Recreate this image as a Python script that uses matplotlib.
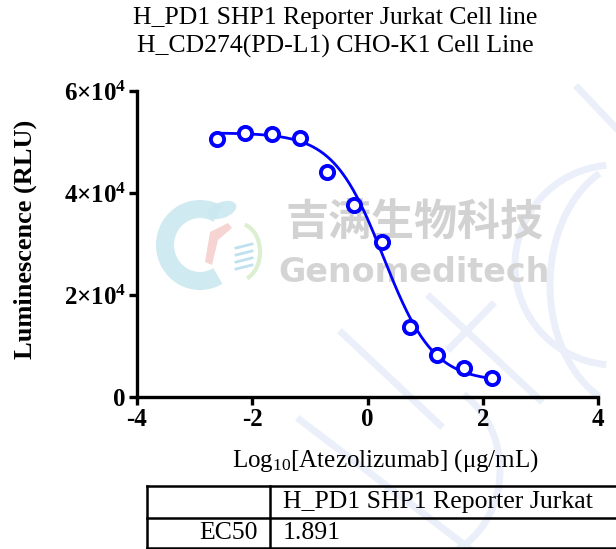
import numpy as np
import matplotlib
matplotlib.use("Agg")
import matplotlib.pyplot as plt
from matplotlib.patches import Arc, Ellipse, Polygon

# ===== DATA =====
log_conc = [-2.606, -2.125, -1.656, -1.17, -0.70, -0.227, 0.253, 0.734, 1.208, 1.683, 2.163]
rlu = [50560, 51850, 51600, 50750, 44110, 37720, 30430, 13810, 8210, 5730, 3770]

# 4PL fit parameters
fit_top = 51800
fit_bottom = 3000
fit_logec50 = 0.277
fit_hill = 1.0

x_ticks = [-4, -2, 0, 2, 4]
y_ticks = [0, 20000, 40000, 60000]
y_tick_labels = ["0", r"$\mathbf{2{\times}10^4}$", r"$\mathbf{4{\times}10^4}$", r"$\mathbf{6{\times}10^4}$"]

table_header = ["", "H_PD1 SHP1 Reporter Jurkat"]
table_row = ["EC50", "1.891"]

title_lines = ["H_PD1 SHP1 Reporter Jurkat Cell line", "H_CD274(PD-L1) CHO-K1 Cell Line"]

# ===== STYLE =====
plt.rcParams["font.family"] = ["Liberation Serif", "DejaVu Serif"]
plt.rcParams["mathtext.fontset"] = "custom"
plt.rcParams["mathtext.rm"] = "Liberation Serif"
plt.rcParams["mathtext.bf"] = "Liberation Serif:bold"
plt.rcParams["mathtext.it"] = "Liberation Serif:italic"

W, H = 616, 549
fig = plt.figure(figsize=(W / 100, H / 100), dpi=100)

# ===== WATERMARK (background) =====
bg = fig.add_axes([0, 0, 1, 1], zorder=0)
bg.set_xlim(0, W)
bg.set_ylim(H, 0)
bg.axis("off")
wm = "#eaeff9"
bg.add_patch(Arc((615, 265), 200, 200, theta1=95, theta2=265, color=wm, lw=5))
bg.add_patch(Arc((640, 285), 180, 250, theta1=110, theta2=250, color=wm, lw=5))
bg.plot([578, 616], [88, 128], color=wm, lw=5)
bg.plot([342, 440], [333, 425], color=wm, lw=5)
bg.plot([430, 540], [297, 400], color=wm, lw=5)
bg.plot([492, 450], [305, 348], color=wm, lw=5)
bg.plot([300, 470], [420, 549], color=wm, lw=5)
bg.add_patch(Arc((420, 470), 160, 180, theta1=-60, theta2=80, color=wm, lw=5))
# logo
bg.add_patch(Arc((200, 245), 70, 72, theta1=60, theta2=300, color="#cbe8f0", lw=13, alpha=0.9))
bg.add_patch(Ellipse((222, 210), 30, 16, angle=-20, color="#cbe8f0", alpha=0.9, lw=0))
bg.add_patch(Polygon([[205, 262], [210, 232], [228, 223], [232, 228], [218, 240], [212, 265]],
                     closed=True, color="#f6d0cc", lw=0, alpha=0.9))
bg.add_patch(Arc((240, 252), 40, 56, theta1=-80, theta2=75, color="#dcefd0", lw=3))
for k in range(4):
    bg.plot([236, 252], [248 + 7 * k, 244 + 7 * k], color="#bfe0ee", lw=2)
bg.text(414, 222, "吉满生物科技", family=["Noto Sans CJK SC", "DejaVu Sans"], fontsize=31,
        fontweight="bold", color="#d2d2d2", ha="center", va="center")
bg.text(414, 272, "Genomeditech", family=["DejaVu Sans"], fontsize=24,
        fontweight="bold", color="#d4d4d4", ha="center", va="center")

# ===== PLOT =====
ax = fig.add_axes([137 / W, 1 - 397 / H, 461 / W, 306 / H], zorder=1)
ax.patch.set_alpha(0)

xs = np.linspace(min(log_conc), max(log_conc), 300)
ys = fit_bottom + (fit_top - fit_bottom) / (1 + 10 ** (fit_hill * (xs - fit_logec50)))
ax.plot(xs, ys, color="#0000ff", lw=2.0, zorder=2)
ax.plot(log_conc, rlu, "o", ms=9.5, mfc="white", mec="#0000ff", mew=2.8, zorder=3)

ax.set_xlim(-4, 4)
ax.set_ylim(0, 60000)
ax.set_xticks(x_ticks)
ax.set_yticks(y_ticks)
ax.set_yticklabels(y_tick_labels)
ax.set_xticklabels([str(t) for t in x_ticks])
for lab in ax.get_xticklabels() + ax.get_yticklabels():
    lab.set_fontweight("bold")
    lab.set_fontsize(18)

for side in ["top", "right"]:
    ax.spines[side].set_visible(False)
for side in ["left", "bottom"]:
    ax.spines[side].set_linewidth(2.4)
ax.tick_params(width=2.4, length=6, pad=2)

ax.set_ylabel("Luminescence (RLU)", fontsize=19, fontweight="bold")
ax.yaxis.set_label_coords(-0.217, 0.515)
ax.set_xlabel(r"Log$_{10}$[Atezolizumab] ($\mathrm{\mu}$g/mL)", fontsize=18)
ax.xaxis.set_label_coords(0.538, -0.165)

fig.text(335 / W, 1 - 18 / H, title_lines[0], ha="center", va="center", fontsize=18.5)
fig.text(335 / W, 1 - 46 / H, title_lines[1], ha="center", va="center", fontsize=18.5)

# ===== TABLE =====
tb = fig.add_axes([0, 0, 1, 1], zorder=2)
tb.set_xlim(0, W)
tb.set_ylim(H, 0)
tb.axis("off")
lw = 1.8
tb.plot([147, W + 5], [486, 486], color="black", lw=lw)
tb.plot([147, W + 5], [518, 518], color="black", lw=lw)
tb.plot([147, W + 5], [548, 548], color="black", lw=lw)
tb.plot([147, 147], [486, 548], color="black", lw=lw)
tb.plot([270, 270], [486, 548], color="black", lw=lw)
tb.text(258, 502, table_header[0], ha="right", va="center", fontsize=18.5)
tb.text(283, 502, table_header[1], ha="left", va="center", fontsize=18.5)
tb.text(258, 533, table_row[0], ha="right", va="center", fontsize=18.5)
tb.text(283, 533, table_row[1], ha="left", va="center", fontsize=18.5)

fig.savefig("out.png", dpi=100)
